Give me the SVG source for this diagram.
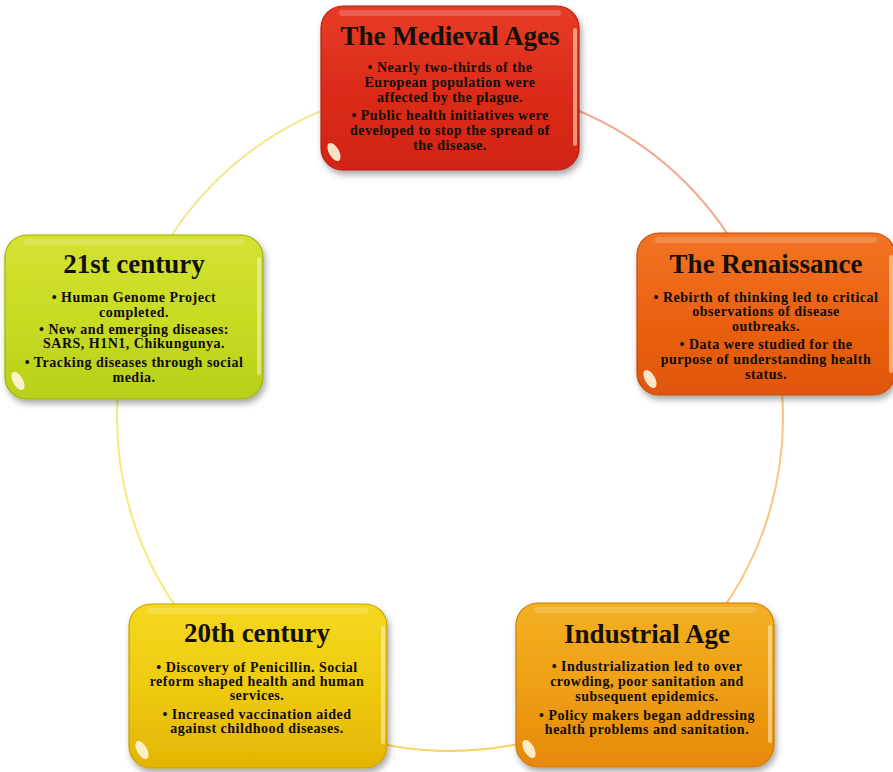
<svg xmlns="http://www.w3.org/2000/svg" xmlns:xlink="http://www.w3.org/1999/xlink" width="893" height="772" viewBox="0 0 893 772">
  <style>
    .title { font-family: "Liberation Serif", "Times New Roman", serif; font-weight: bold; font-size: 27px; fill: #141008; text-anchor: middle; }
    .body { font-family: "Liberation Serif", "Times New Roman", serif; font-weight: bold; font-size: 14px; letter-spacing: 0.5px; fill: #100c06; text-anchor: middle; }
    .box { stroke-width: 1.2; }
    .ring { fill: none; stroke-width: 2; }
  </style>
  <defs>
    <filter id="shadow" x="-10%" y="-10%" width="125%" height="130%">
      <feDropShadow dx="2" dy="4" stdDeviation="3" flood-color="#000" flood-opacity="0.35"/>
    </filter>
    <linearGradient id="gMed" x1="0" y1="0" x2="0" y2="1">
      <stop offset="0" stop-color="#e63c26"/>
      <stop offset="0.5" stop-color="#dc2c1a"/>
      <stop offset="1" stop-color="#d02414"/>
    </linearGradient>
    <linearGradient id="gRen" x1="0" y1="0" x2="0" y2="1">
      <stop offset="0" stop-color="#f27424"/>
      <stop offset="0.5" stop-color="#ea6212"/>
      <stop offset="1" stop-color="#e0560c"/>
    </linearGradient>
    <linearGradient id="gInd" x1="0" y1="0" x2="0" y2="1">
      <stop offset="0" stop-color="#f4b024"/>
      <stop offset="0.5" stop-color="#eea014"/>
      <stop offset="1" stop-color="#e6880c"/>
    </linearGradient>
    <linearGradient id="g20" x1="0" y1="0" x2="0" y2="1">
      <stop offset="0" stop-color="#f4d820"/>
      <stop offset="0.5" stop-color="#eecb10"/>
      <stop offset="1" stop-color="#e4b404"/>
    </linearGradient>
    <linearGradient id="g21" x1="0" y1="0" x2="0" y2="1">
      <stop offset="0" stop-color="#d4e232"/>
      <stop offset="0.5" stop-color="#c8dc24"/>
      <stop offset="1" stop-color="#b8d01a"/>
    </linearGradient>
    <!-- glossy bevel overlay shared by every box -->
    <g id="gloss">
      <rect x="18" y="4" width="222" height="6" rx="3" fill="#ffffff" opacity="0.18"/>
      <rect x="252" y="22" width="4" height="118" rx="2" fill="#fff0c8" opacity="0.55"/>
      <ellipse cx="13" cy="146" rx="5" ry="10" transform="rotate(-30 13 146)" fill="#fff6dc" opacity="0.9"/>
    </g>
  </defs>

  <rect width="893" height="772" fill="#ffffff"/>

  <!-- ring connecting the stages -->
  <g id="connectors">
    <path class="ring" stroke="#f5a88c" d="M450 85 A333 333 0 0 1 766.7 315.1"/>
    <path class="ring" stroke="#f8c47e" d="M766.7 315.1 A333 333 0 0 1 645.7 687.4"/>
    <path class="ring" stroke="#f6d35c" d="M645.7 687.4 A333 333 0 0 1 254.3 687.4"/>
    <path class="ring" stroke="#f7ea7a" d="M254.3 687.4 A333 333 0 0 1 133.3 315.1"/>
    <path class="ring" stroke="#f4e88e" d="M133.3 315.1 A333 333 0 0 1 450 85"/>
  </g>

  <g id="medieval" transform="translate(321,6)">
    <rect class="box" width="258" height="164" rx="22" fill="url(#gMed)" stroke="#b81c10" filter="url(#shadow)"/>
    <use xlink:href="#gloss"/>
    <text class="title" x="129" y="39">The Medieval Ages</text>
    <text class="body" x="129" y="66">• Nearly two-thirds of the</text>
    <text class="body" x="129" y="81">European population were</text>
    <text class="body" x="129" y="96">affected by the plague.</text>
    <text class="body" x="129" y="114">• Public health initiatives were</text>
    <text class="body" x="129" y="129">developed to stop the spread of</text>
    <text class="body" x="129" y="144">the disease.</text>
  </g>

  <g id="renaissance" transform="translate(637,233)">
    <rect class="box" width="258" height="162" rx="22" fill="url(#gRen)" stroke="#c44a08" filter="url(#shadow)"/>
    <use xlink:href="#gloss"/>
    <text class="title" x="129" y="40">The Renaissance</text>
    <text class="body" x="129" y="69">• Rebirth of thinking led to critical</text>
    <text class="body" x="129" y="83">observations of disease</text>
    <text class="body" x="129" y="98">outbreaks.</text>
    <text class="body" x="129" y="116">• Data were studied for the</text>
    <text class="body" x="129" y="131">purpose of understanding health</text>
    <text class="body" x="129" y="146">status.</text>
  </g>

  <g id="industrial" transform="translate(516,603)">
    <rect class="box" width="258" height="164" rx="22" fill="url(#gInd)" stroke="#c87c08" filter="url(#shadow)"/>
    <use xlink:href="#gloss"/>
    <text class="title" x="131" y="40">Industrial Age</text>
    <text class="body" x="131" y="68">• Industrialization led to over</text>
    <text class="body" x="131" y="83">crowding, poor sanitation and</text>
    <text class="body" x="131" y="98">subsequent epidemics.</text>
    <text class="body" x="131" y="117">• Policy makers began addressing</text>
    <text class="body" x="131" y="131">health problems and sanitation.</text>
  </g>

  <g id="century20" transform="translate(129,604)">
    <rect class="box" width="258" height="164" rx="22" fill="url(#g20)" stroke="#c8a000" filter="url(#shadow)"/>
    <use xlink:href="#gloss"/>
    <text class="title" x="128" y="38">20th century</text>
    <text class="body" x="128" y="68">• Discovery of Penicillin. Social</text>
    <text class="body" x="128" y="82">reform shaped health and human</text>
    <text class="body" x="128" y="96">services.</text>
    <text class="body" x="128" y="115">• Increased vaccination aided</text>
    <text class="body" x="128" y="129">against childhood diseases.</text>
  </g>

  <g id="century21" transform="translate(5,235)">
    <rect class="box" width="258" height="164" rx="22" fill="url(#g21)" stroke="#9cb008" filter="url(#shadow)"/>
    <use xlink:href="#gloss"/>
    <text class="title" x="129" y="38">21st century</text>
    <text class="body" x="129" y="67">• Human Genome Project</text>
    <text class="body" x="129" y="82">completed.</text>
    <text class="body" x="129" y="99">• New and emerging diseases:</text>
    <text class="body" x="129" y="113">SARS, H1N1, Chikungunya.</text>
    <text class="body" x="129" y="132">• Tracking diseases through social</text>
    <text class="body" x="129" y="147">media.</text>
  </g>
</svg>
